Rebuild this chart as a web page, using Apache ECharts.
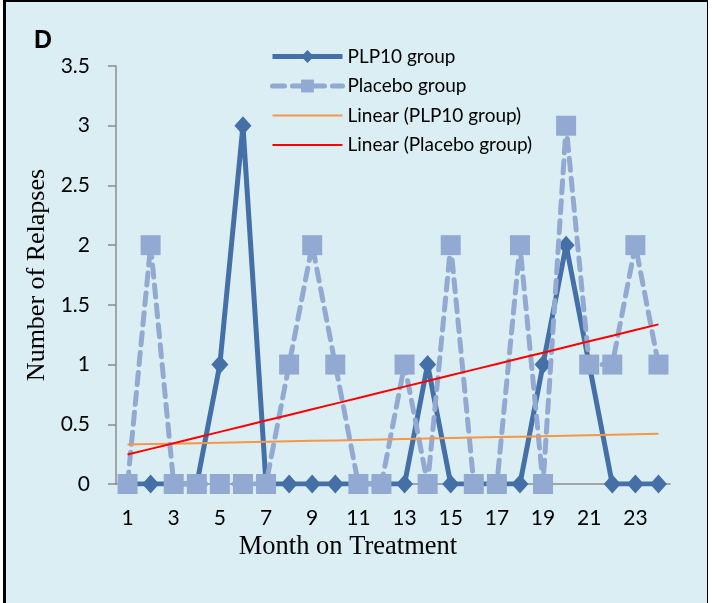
<!DOCTYPE html>
<html>
<head>
<meta charset="utf-8">
<script src="https://cdn.jsdelivr.net/npm/echarts@6/dist/echarts.min.js"></script>
<style>
  html, body { margin: 0; padding: 0; background: #ffffff; }
  #frame {
    position: absolute; left: 3px; top: 0; width: 705px; height: 620px;
    border-left: 3px solid #000; border-top: 2px solid #000; border-right: 1px solid #000;
    background: #dbeef4; box-sizing: border-box;
  }
  #chart { position: absolute; left: 0; top: 0; width: 712px; height: 603px; }
  #panel {
    position: absolute; left: 34px; top: 25px;
    font: bold 25px "Liberation Sans", Arial, sans-serif; color: #000;
  }
</style>
</head>
<body>
<div id="frame"></div>
<div id="chart"></div>
<div id="panel">D</div>
<script>
// Months on treatment and relapse counts per month
const months = [1,2,3,4,5,6,7,8,9,10,11,12,13,14,15,16,17,18,19,20,21,22,23,24];
const plp10 = [0,0,0,0,1,3,0,0,0,0,0,0,0,1,0,0,0,0,1,2,1,0,0,0];
const placebo = [0,2,0,0,0,0,0,1,2,1,0,0,1,0,2,0,0,2,0,3,1,1,2,1];
const yTicks = { min: 0, max: 3.5, step: 0.5 };

// Least-squares linear trend over month index
function linearTrend(ys) {
  const n = ys.length;
  const xs = ys.map((_, i) => i + 1);
  const mx = xs.reduce((a, b) => a + b, 0) / n;
  const my = ys.reduce((a, b) => a + b, 0) / n;
  let sxy = 0, sxx = 0;
  for (let i = 0; i < n; i++) {
    sxy += (xs[i] - mx) * (ys[i] - my);
    sxx += (xs[i] - mx) * (xs[i] - mx);
  }
  const slope = sxy / sxx;
  return xs.map(x => my + slope * (x - mx));
}

const chart = echarts.init(document.getElementById('chart'), null, { renderer: 'canvas' });
const sans = 'Lato, "Open Sans", sans-serif';
const serif = '"Liberation Serif", "Times New Roman", serif';
const dark = '#4470a7';
const light = '#92a9d2';
const orange = '#f79646';
const red = '#ff0000';

chart.setOption({
  backgroundColor: 'transparent',
  animation: false,
  grid: { left: 116, right: 42, top: 66, bottom: 119, containLabel: false },
  legend: {
    orient: 'vertical',
    left: 265, top: 42,
    itemWidth: 70, itemHeight: 16, itemGap: 10.5,
    textStyle: { fontFamily: sans, fontSize: 19, color: '#000' },
    data: [
      { name: 'PLP10 group', lineStyle: { width: 5 } },
      { name: 'Placebo group', lineStyle: { width: 5, type: [12, 8], cap: 'round' } },
      { name: 'Linear (PLP10 group)', itemStyle: { opacity: 0 }, lineStyle: { width: 2, opacity: 1 } },
      { name: 'Linear (Placebo group)', itemStyle: { opacity: 0 }, lineStyle: { width: 2, opacity: 1 } }
    ]
  },
  xAxis: {
    type: 'category',
    data: months,
    boundaryGap: true,
    name: 'Month on Treatment',
    nameLocation: 'middle',
    nameGap: 50,
    nameTextStyle: { fontFamily: serif, fontSize: 26.5, color: '#000', padding: [0, 90, 0, 0] },
    axisLine: { lineStyle: { color: '#8c8c8c', width: 1.5 } },
    axisTick: { show: false },
    axisLabel: { interval: 1, margin: 24, fontFamily: sans, fontSize: 21, color: '#000' },
    splitLine: { show: false }
  },
  yAxis: {
    type: 'value',
    min: yTicks.min, max: yTicks.max, interval: yTicks.step,
    name: 'Number of Relapses',
    nameLocation: 'middle',
    nameGap: 62,
    nameTextStyle: { fontFamily: serif, fontSize: 26, color: '#000' },
    axisLine: { show: true, lineStyle: { color: '#8c8c8c', width: 1.5 } },
    axisTick: { show: true, length: 8, lineStyle: { color: '#8c8c8c', width: 1.5 } },
    axisLabel: { margin: 26, fontFamily: sans, fontSize: 21, color: '#000' },
    splitLine: { show: false }
  },
  series: [
    {
      name: 'PLP10 group', type: 'line', data: plp10, z: 2,
      symbol: 'diamond', symbolSize: [17, 19], showAllSymbol: true,
      itemStyle: { color: dark, borderWidth: 0 },
      lineStyle: { color: dark, width: 5 }
    },
    {
      name: 'Placebo group', type: 'line', data: placebo, z: 3,
      symbol: 'rect', symbolSize: 20, showAllSymbol: true,
      itemStyle: { color: light, borderWidth: 0 },
      lineStyle: { color: light, width: 5, type: [12, 8], cap: 'round' }
    },
    {
      name: 'Linear (PLP10 group)', type: 'line', data: linearTrend(plp10), z: 4,
      symbol: 'none', itemStyle: { color: orange },
      lineStyle: { color: orange, width: 2 }
    },
    {
      name: 'Linear (Placebo group)', type: 'line', data: linearTrend(placebo), z: 4,
      symbol: 'none', itemStyle: { color: red },
      lineStyle: { color: red, width: 2 }
    }
  ]
});
</script>
</body>
</html>
